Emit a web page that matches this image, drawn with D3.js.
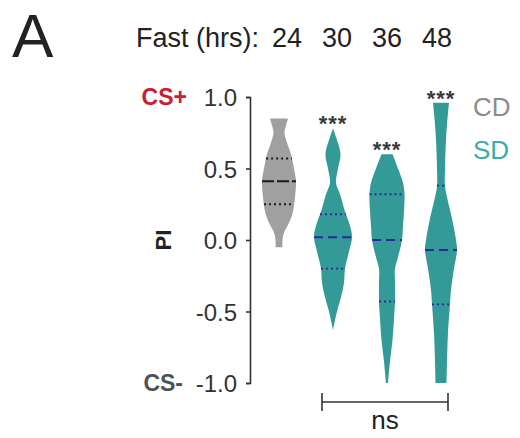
<!DOCTYPE html>
<html>
  <head>
    <meta charset="utf-8">
    <title>PI violins by fast duration</title>
    <script src="https://d3js.org/d3.v7.min.js"></script>
    <style>
      body { margin: 0; background: #fff; font-family: 'Liberation Sans', Arial, sans-serif; }
    </style>
  </head>
  <body>
    <svg></svg>
    <script>
      //begin: data
      var fastHours = ["24", "30", "36", "48"];
      var diet = ["CD", "SD", "SD", "SD"];
      var medians = [0.41, 0.02, 0.0, -0.07];
      var upperQuartiles = [0.57, 0.18, 0.32, 0.38];
      var lowerQuartiles = [0.25, -0.20, -0.43, -0.45];
      var stars = ["", "***", "***", "***"];
      var yTicks = [-1.0, -0.5, 0.0, 0.5, 1.0];
      // density outlines: [PI, relative density]
      var density24 = [[0.85, 9], [0.80, 7], [0.75, 5.5], [0.68, 8], [0.60, 12], [0.50, 15], [0.41, 17],
                       [0.30, 16], [0.20, 14], [0.12, 10], [0.05, 5], [0.0, 3.5], [-0.05, 3.5]];
      var density30 = [[0.78, 0], [0.72, 3], [0.60, 7.5], [0.50, 5], [0.40, 3], [0.32, 7], [0.20, 12],
                       [0.10, 17], [0.02, 19], [-0.08, 16], [-0.20, 12], [-0.30, 11], [-0.40, 8],
                       [-0.50, 4], [-0.63, 0]];
      var density36 = [[0.60, 5.5], [0.50, 11], [0.40, 16], [0.32, 17.5], [0.20, 17], [0.10, 16],
                       [0.0, 15], [-0.12, 11], [-0.20, 8], [-0.30, 8], [-0.43, 8], [-0.55, 7],
                       [-0.70, 5.5], [-0.85, 3], [-1.0, 1]];
      var density48 = [[0.96, 8], [0.85, 6.5], [0.70, 5], [0.50, 4], [0.38, 4], [0.30, 6], [0.15, 11],
                       [0.0, 15], [-0.07, 16], [-0.20, 13], [-0.35, 10], [-0.45, 9], [-0.65, 7],
                       [-0.85, 6], [-1.0, 5.5]];
      var densities = [density24, density30, density36, density48];
      //end: data

      var svgWidth = 520, svgHeight = 438;
      var colors = { CD: "#a0a0a0", SD: "#339a98" };
      var lineColors = { CD: "#1a1a1a", SD: "#2a2a9a" };
      var medianDash = { CD: "12,3", SD: "9,5" };

      var svg = d3.select("svg")
        .attr("width", svgWidth)
        .attr("height", svgHeight);

      var y = d3.scaleLinear().domain([-1, 1]).range([383, 97]);
      var x = d3.scalePoint().domain(fastHours).range([279, 441]);
      var headerX = d3.scalePoint().domain(fastHours).range([287, 437]);
      var w = d3.scaleLinear().domain([0, 20]).range([0, 20]);

      function halfWidthAt(prof, v) {
        for (var i = 0; i < prof.length - 1; i++) {
          var a = prof[i], b = prof[i + 1];
          if (v <= a[0] && v >= b[0]) {
            var t = (a[0] - v) / (a[0] - b[0]);
            return a[1] + t * (b[1] - a[1]);
          }
        }
        return 0;
      }

      // y axis
      var axis = d3.axisLeft(y)
        .tickValues(yTicks)
        .tickFormat(function(d){ return d.toFixed(1); })
        .tickSize(4);

      var gAxis = svg.append("g")
        .attr("transform", "translate(250,0)")
        .call(axis);
      gAxis.select(".domain").attr("stroke", "#333").attr("stroke-width", 1.6);
      gAxis.selectAll(".tick line").attr("stroke", "#333").attr("stroke-width", 1.6);
      gAxis.selectAll(".tick text")
        .attr("x", -13)
        .attr("dy", "0.36em")
        .style("font-size", "24px")
        .style("font-family", "'Liberation Sans', Arial, sans-serif")
        .attr("fill", "#333");

      svg.append("text")
        .attr("x", 187).attr("y", y(1)).attr("dy", "0.36em")
        .attr("text-anchor", "end")
        .style("font-size", "23px").style("font-weight", "bold")
        .attr("fill", "#c8202f")
        .text("CS+");
      svg.append("text")
        .attr("x", 183).attr("y", y(-1)).attr("dy", "0.36em")
        .attr("text-anchor", "end")
        .style("font-size", "23px").style("font-weight", "bold")
        .attr("fill", "#4d525a")
        .text("CS-");
      svg.append("text")
        .attr("transform", "translate(171," + y(0) + ") rotate(-90)")
        .attr("text-anchor", "middle")
        .style("font-size", "22px").style("font-weight", "bold")
        .attr("fill", "#222")
        .text("PI");

      // header
      svg.append("text")
        .attr("x", 12).attr("y", 57)
        .style("font-size", "62px")
        .attr("fill", "#222")
        .text("A");
      svg.append("text")
        .attr("x", 259).attr("y", 47)
        .attr("text-anchor", "end")
        .style("font-size", "27px")
        .attr("fill", "#222")
        .text("Fast (hrs):");
      svg.selectAll(".hdr")
        .data(fastHours)
        .enter().append("text")
          .attr("class", "hdr")
          .attr("x", function(d){ return headerX(d); })
          .attr("y", 47)
          .attr("text-anchor", "middle")
          .style("font-size", "27px")
          .attr("fill", "#222")
          .text(function(d){ return d; });

      // violins
      var area = d3.area()
        .curve(d3.curveCatmullRom)
        .y(function(d){ return y(d[0]); })
        .x0(function(d){ return -w(d[1]); })
        .x1(function(d){ return w(d[1]); });

      var violins = svg.selectAll(".violin")
        .data(fastHours)
        .enter().append("g")
          .attr("class", "violin")
          .attr("transform", function(d){ return "translate(" + x(d) + ",0)"; });

      violins.append("path")
        .attr("d", function(d, i){ return area(densities[i]); })
        .attr("fill", function(d, i){ return colors[diet[i]]; });

      function statLine(vals, dashFn, width) {
        violins.append("line")
          .attr("x1", function(d, i){ return -w(halfWidthAt(densities[i], vals[i])); })
          .attr("x2", function(d, i){ return w(halfWidthAt(densities[i], vals[i])); })
          .attr("y1", function(d, i){ return y(vals[i]); })
          .attr("y2", function(d, i){ return y(vals[i]); })
          .attr("stroke", function(d, i){ return lineColors[diet[i]]; })
          .attr("stroke-width", width)
          .attr("stroke-dasharray", dashFn);
      }
      statLine(medians, function(d, i){ return medianDash[diet[i]]; }, 2);
      statLine(upperQuartiles, "2,3", 1.8);
      statLine(lowerQuartiles, "2,3", 1.8);

      violins.append("text")
        .attr("y", function(d, i){ return y(densities[i][0][0]) + 3; })
        .attr("text-anchor", "middle")
        .style("font-size", "22px")
        .style("font-weight", "bold")
        .style("letter-spacing", "1px")
        .attr("fill", "#3a3a3a")
        .text(function(d, i){ return stars[i]; });

      // legend
      var legend = ["CD", "SD"];
      svg.selectAll(".legend")
        .data(legend)
        .enter().append("text")
          .attr("class", "legend")
          .attr("x", 473)
          .attr("y", function(d, i){ return 116 + i * 43; })
          .style("font-size", "26px")
          .attr("fill", function(d){ return d === "CD" ? "#8c8c8c" : "#3aacaa"; })
          .text(function(d){ return d; });

      // ns bracket between 30 and 48
      var bx0 = x("30") - 11, bx1 = x("48") + 7, by = 402;
      var br = svg.append("g").attr("stroke", "#333").attr("stroke-width", 1.6);
      br.append("line").attr("x1", bx0).attr("x2", bx1).attr("y1", by).attr("y2", by);
      br.append("line").attr("x1", bx0).attr("x2", bx0).attr("y1", by - 9).attr("y2", by + 9);
      br.append("line").attr("x1", bx1).attr("x2", bx1).attr("y1", by - 9).attr("y2", by + 9);
      svg.append("text")
        .attr("x", (bx0 + bx1) / 2).attr("y", 429)
        .attr("text-anchor", "middle")
        .style("font-size", "26px")
        .attr("fill", "#222")
        .text("ns");
    </script>
  </body>
</html>
